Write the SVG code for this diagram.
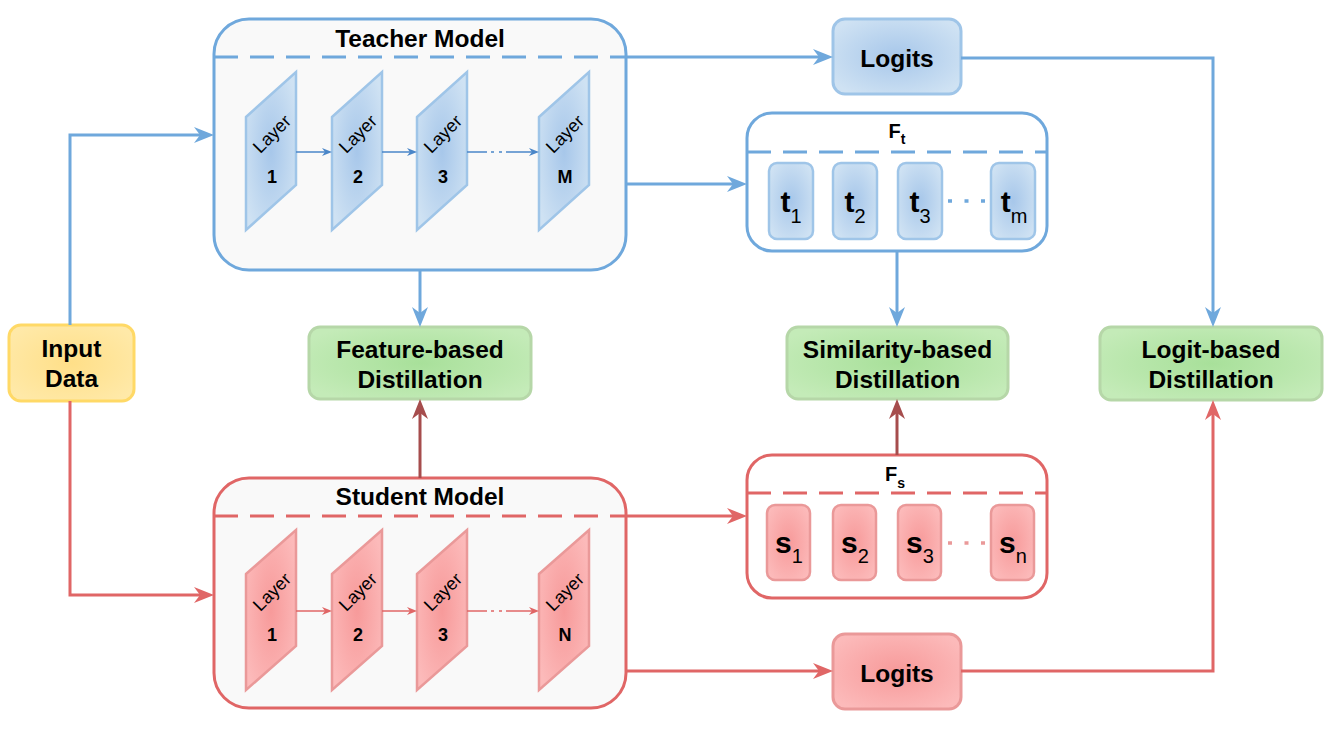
<svg xmlns="http://www.w3.org/2000/svg" width="1329" height="729" viewBox="0 0 1329 729">
<style>
text{font-family:"Liberation Sans",Arial,sans-serif;fill:#000}
.b{font-weight:bold}
.title{font-size:24.5px;font-weight:bold;text-anchor:middle}
.lbl{font-size:24.5px;font-weight:bold;text-anchor:middle}
.lay{font-size:18px;text-anchor:middle;dominant-baseline:central}
.num{font-size:18px;font-weight:bold;text-anchor:middle}
.feat{font-size:30px;font-weight:bold;text-anchor:middle}
.sub{font-size:20px;font-weight:normal}
.blue{stroke:#6fa8dc;stroke-width:3;fill:none}
.red{stroke:#e06666;stroke-width:3;fill:none}
.dred{stroke:#a64d4d;stroke-width:3;fill:none}
.dash{stroke-dasharray:24 12}
</style>
<defs>
<radialGradient id="gBlue" cx="50%" cy="50%" r="60%"><stop offset="0" stop-color="#a7c7ea"/><stop offset="1" stop-color="#cfe2f3"/></radialGradient>
<radialGradient id="gRed" cx="50%" cy="50%" r="60%"><stop offset="0" stop-color="#f79a9a"/><stop offset="1" stop-color="#fcbaba"/></radialGradient>
<radialGradient id="gGreen" cx="50%" cy="50%" r="60%"><stop offset="0" stop-color="#a8e09a"/><stop offset="1" stop-color="#c4ebb8"/></radialGradient>
<radialGradient id="gYellow" cx="50%" cy="50%" r="60%"><stop offset="0" stop-color="#ffdf88"/><stop offset="1" stop-color="#ffe9a8"/></radialGradient>
<marker id="aB" viewBox="0 0 20 16" markerWidth="20" markerHeight="16" refX="6" refY="8" orient="auto" markerUnits="userSpaceOnUse"><path d="M0,0 L20,8 L0,16 L6,8 Z" fill="#6fa8dc"/></marker>
<marker id="aR" viewBox="0 0 20 16" markerWidth="20" markerHeight="16" refX="6" refY="8" orient="auto" markerUnits="userSpaceOnUse"><path d="M0,0 L20,8 L0,16 L6,8 Z" fill="#e06666"/></marker>
<marker id="aD" viewBox="0 0 20 16" markerWidth="20" markerHeight="16" refX="6" refY="8" orient="auto" markerUnits="userSpaceOnUse"><path d="M0,0 L20,8 L0,16 L6,8 Z" fill="#a64d4d"/></marker>
<marker id="sB" viewBox="0 0 10 8" markerWidth="10" markerHeight="8" refX="3" refY="4" orient="auto" markerUnits="userSpaceOnUse"><path d="M0,0 L10,4 L0,8 L3,4 Z" fill="#4a86c8"/></marker>
<marker id="sR" viewBox="0 0 10 8" markerWidth="10" markerHeight="8" refX="3" refY="4" orient="auto" markerUnits="userSpaceOnUse"><path d="M0,0 L10,4 L0,8 L3,4 Z" fill="#e06666"/></marker>
</defs>

<g id="teacher-model">
<rect x="214" y="19" width="412" height="251" rx="35" fill="#f9f9f9" stroke="#6fa8dc" stroke-width="3"/>
<path d="M214,57 H626" class="blue dash"/>
<text x="420" y="47" class="title">Teacher Model</text>
<g fill="url(#gBlue)" stroke="#9fc5e8" stroke-width="2.5">
<polygon points="246,117 296,72 296,185 246,230"/>
<polygon points="332,117 382,72 382,185 332,230"/>
<polygon points="417,117 467,72 467,185 417,230"/>
<polygon points="539,117 589,72 589,185 539,230"/>
</g>
<text class="lay" transform="translate(272,134) rotate(-45)">Layer</text>
<text class="lay" transform="translate(358,134) rotate(-45)">Layer</text>
<text class="lay" transform="translate(443,134) rotate(-45)">Layer</text>
<text class="lay" transform="translate(565,134) rotate(-45)">Layer</text>
<text x="272" y="183" class="num">1</text>
<text x="358" y="183" class="num">2</text>
<text x="443" y="183" class="num">3</text>
<text x="565" y="183" class="num">M</text>
<g stroke="#4a86c8" stroke-width="1.5" fill="none">
<path d="M296,152 H325" marker-end="url(#sB)"/>
<path d="M382,152 H410" marker-end="url(#sB)"/>
<path d="M467,152 H487"/>
<path d="M491,152 H494 M499,152 H502"/>
<path d="M506,152 H532" marker-end="url(#sB)"/>
</g>
</g>

<g id="student-model">
<rect x="214" y="478" width="412" height="230" rx="35" fill="#f9f9f9" stroke="#e06666" stroke-width="3"/>
<path d="M214,516 H626" class="red dash"/>
<text x="420" y="505" class="title">Student Model</text>
<g fill="url(#gRed)" stroke="#ea9999" stroke-width="2.5">
<polygon points="246,574 296,530 296,646 246,690"/>
<polygon points="332,574 382,530 382,646 332,690"/>
<polygon points="417,574 467,530 467,646 417,690"/>
<polygon points="539,574 589,530 589,646 539,690"/>
</g>
<text class="lay" transform="translate(272,592) rotate(-45)">Layer</text>
<text class="lay" transform="translate(358,592) rotate(-45)">Layer</text>
<text class="lay" transform="translate(443,592) rotate(-45)">Layer</text>
<text class="lay" transform="translate(565,592) rotate(-45)">Layer</text>
<text x="272" y="641" class="num">1</text>
<text x="358" y="641" class="num">2</text>
<text x="443" y="641" class="num">3</text>
<text x="565" y="641" class="num">N</text>
<g stroke="#e06666" stroke-width="1.5" fill="none">
<path d="M296,611 H325" marker-end="url(#sR)"/>
<path d="M382,611 H410" marker-end="url(#sR)"/>
<path d="M467,611 H487"/>
<path d="M491,611 H494 M499,611 H502"/>
<path d="M506,611 H532" marker-end="url(#sR)"/>
</g>
</g>

<g id="ft">
<rect x="747" y="113" width="300" height="138" rx="25" fill="#ffffff" stroke="#6fa8dc" stroke-width="3"/>
<path d="M747,152 H1047" class="blue dash"/>
<text x="897" y="138" font-size="20" class="b" text-anchor="middle">F<tspan font-size="14" dy="6">t</tspan></text>
<g fill="url(#gBlue)" stroke="#9fc5e8" stroke-width="2.5">
<rect x="769" y="163" width="44" height="76" rx="8"/>
<rect x="833" y="163" width="44" height="76" rx="8"/>
<rect x="898" y="163" width="44" height="76" rx="8"/>
<rect x="991" y="163" width="44" height="76" rx="8"/>
</g>
<text x="791" y="212" class="feat">t<tspan class="sub" dy="11">1</tspan></text>
<text x="855" y="212" class="feat">t<tspan class="sub" dy="11">2</tspan></text>
<text x="920" y="212" class="feat">t<tspan class="sub" dy="11">3</tspan></text>
<text x="1014" y="212" class="feat">t<tspan class="sub" dy="11">m</tspan></text>
<path d="M948,201 H987" stroke="#6fa8dc" stroke-width="3.5" stroke-dasharray="4 12.5" fill="none"/>
</g>

<g id="fs">
<rect x="747" y="455" width="300" height="143" rx="25" fill="#ffffff" stroke="#e06666" stroke-width="3"/>
<path d="M747,493 H1047" class="red dash"/>
<text x="895" y="481" font-size="20" class="b" text-anchor="middle">F<tspan font-size="14" dy="7">s</tspan></text>
<g fill="url(#gRed)" stroke="#ea9999" stroke-width="2.5">
<rect x="767" y="505" width="43" height="75" rx="8"/>
<rect x="833" y="505" width="43" height="75" rx="8"/>
<rect x="898" y="505" width="43" height="75" rx="8"/>
<rect x="991" y="505" width="43" height="75" rx="8"/>
</g>
<text x="789" y="553" class="feat">s<tspan class="sub" dy="10">1</tspan></text>
<text x="855" y="553" class="feat">s<tspan class="sub" dy="10">2</tspan></text>
<text x="920" y="553" class="feat">s<tspan class="sub" dy="10">3</tspan></text>
<text x="1013" y="553" class="feat">s<tspan class="sub" dy="10">n</tspan></text>
<path d="M948,543 H987" stroke="#ea9999" stroke-width="3.5" stroke-dasharray="4 12.5" fill="none"/>
</g>

<g id="input-data">
<rect x="9" y="325" width="125" height="76" rx="12" fill="url(#gYellow)" stroke="#ffd966" stroke-width="3"/>
<text x="71.5" y="357" class="lbl">Input</text>
<text x="71.5" y="387" class="lbl">Data</text>
</g>

<g id="teacher-logits">
<rect x="833" y="19" width="128" height="75" rx="12" fill="url(#gBlue)" stroke="#9fc5e8" stroke-width="3"/>
<text x="897" y="67" class="lbl">Logits</text>
</g>

<g id="student-logits">
<rect x="833" y="634" width="128" height="75" rx="12" fill="url(#gRed)" stroke="#ea9999" stroke-width="3"/>
<text x="897" y="682" class="lbl">Logits</text>
</g>

<g id="feature-distillation">
<rect x="309" y="327" width="222" height="72" rx="11" fill="url(#gGreen)" stroke="#b6d7a8" stroke-width="3"/>
<text x="420" y="358" class="lbl">Feature-based</text>
<text x="420" y="388" class="lbl">Distillation</text>
</g>

<g id="similarity-distillation">
<rect x="787" y="327" width="221" height="72" rx="11" fill="url(#gGreen)" stroke="#b6d7a8" stroke-width="3"/>
<text x="897.5" y="358" class="lbl">Similarity-based</text>
<text x="897.5" y="388" class="lbl">Distillation</text>
</g>

<g id="logit-distillation">
<rect x="1100" y="327" width="222" height="73" rx="11" fill="url(#gGreen)" stroke="#b6d7a8" stroke-width="3"/>
<text x="1211" y="358" class="lbl">Logit-based</text>
<text x="1211" y="388" class="lbl">Distillation</text>
</g>

<g id="connectors">
<path d="M70,325 V135 H200" class="blue" marker-end="url(#aB)"/>
<path d="M626,57 H819" class="blue" marker-end="url(#aB)"/>
<path d="M961,58 H1213 V313" class="blue" marker-end="url(#aB)"/>
<path d="M626,184 H733" class="blue" marker-end="url(#aB)"/>
<path d="M420,270 V313" class="blue" marker-end="url(#aB)"/>
<path d="M897,251 V313" class="blue" marker-end="url(#aB)"/>
<path d="M70,401 V595 H200" class="red" marker-end="url(#aR)"/>
<path d="M626,516 H733" class="red" marker-end="url(#aR)"/>
<path d="M626,671 H819" class="red" marker-end="url(#aR)"/>
<path d="M961,671 H1213 V414" class="red" marker-end="url(#aR)"/>
<path d="M420,478 V413" class="dred" marker-end="url(#aD)"/>
<path d="M897,455 V413" class="dred" marker-end="url(#aD)"/>
</g>
</svg>
